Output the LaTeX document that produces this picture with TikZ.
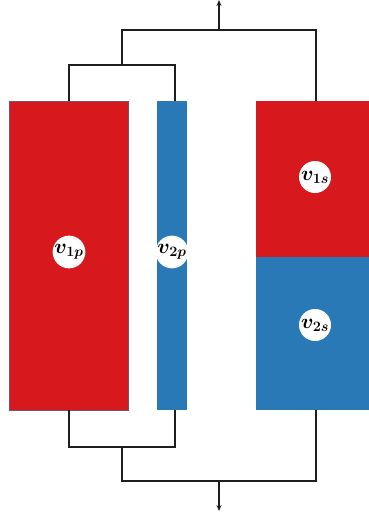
\documentclass[tikz,border=0pt]{standalone}
\usepackage{amsmath,bm}
\usetikzlibrary{arrows.meta}
\definecolor{myred}{RGB}{215,24,28}
\definecolor{myblue}{RGB}{41,121,182}
\definecolor{wire}{RGB}{30,30,30}
\tikzset{
  block/.style={anchor=north west,inner sep=0,outer sep=0},
  lab/.style={circle,fill=white,inner sep=0,minimum size=32pt,font=\fontsize{20}{20}\selectfont},
  conn/.style={draw=wire,line width=1.1pt},
  outarr/.style={conn,-{Stealth[length=6pt,width=5pt]}}
}
\begin{document}
\begin{tikzpicture}[x=1pt,y=-1pt]
\useasboundingbox (0,0) rectangle (369,517);
% blocks
\node[block,fill=myred,draw=myblue!60!myred,line width=0.4pt,minimum width=119pt,minimum height=309pt] (p1) at (9,101) {};
\node[block,fill=myblue,minimum width=30pt,minimum height=309pt] (p2) at (157,101) {};
\node[block,fill=myred,minimum width=113pt,minimum height=156pt] (s1) at (256,101) {};
\node[block,fill=myblue,minimum width=113pt,minimum height=153pt] (s2) at (256,257) {};
% labels
\node[lab] (l1p) at (69,252) {$\bm{v_{1p}}$};
\node[lab] (l2p) at (172,252) {$\bm{v_{2p}}$};
\node[lab] (l1s) at (315,177) {$\bm{v_{1s}}$};
\node[lab] (l2s) at (315,325) {$\bm{v_{2s}}$};
% top connectors
\coordinate (tp1) at (69,101);
\coordinate (tp2) at (175,101);
\coordinate (ts) at (316,101);
\coordinate (tj) at (122,65);
\coordinate (tm) at (219,30);
\coordinate (tout) at (219,0);
\draw[conn] (tp1) |- (tj) -| (tp2);
\draw[conn] (tj) |- (tm) -| (ts);
\draw[outarr] (tm) -- (tout);
% bottom connectors
\coordinate (bp1) at (69,410);
\coordinate (bp2) at (175,410);
\coordinate (bs) at (316,410);
\coordinate (bj) at (122,447);
\coordinate (bm) at (219,481);
\coordinate (bout) at (219,511);
\draw[conn] (bp1) |- (bj) -| (bp2);
\draw[conn] (bj) |- (bm) -| (bs);
\draw[outarr] (bm) -- (bout);
\end{tikzpicture}
\end{document}
